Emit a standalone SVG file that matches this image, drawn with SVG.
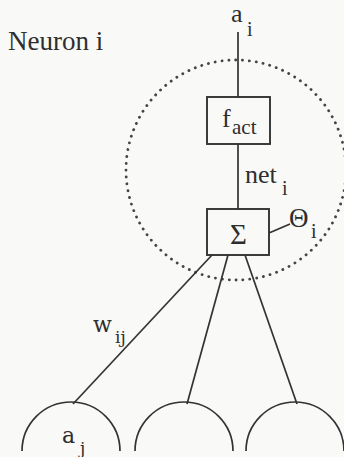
<svg xmlns="http://www.w3.org/2000/svg" width="344" height="457" viewBox="0 0 344 457">
<rect width="344" height="457" fill="#f9f9f7"/>
<g fill="#2e2e2e" font-family="'Liberation Serif'">
<g id="neuron">
<circle cx="236" cy="170" r="110" fill="none" stroke="#444" stroke-width="2.8" stroke-dasharray="0.1 6.8" stroke-linecap="round"/>
<text x="8" y="50" font-size="27">Neuron i</text>
</g>
<g id="connectors" stroke="#333" stroke-width="1.7" fill="none">
<line x1="238" y1="32" x2="238" y2="97"/>
<line x1="238" y1="144" x2="238" y2="209"/>
<line x1="269" y1="233" x2="290" y2="224"/>
<line x1="212" y1="255" x2="73" y2="404"/>
<line x1="228" y1="255" x2="187" y2="404"/>
<line x1="245" y1="255" x2="297" y2="404"/>
</g>
<g id="output">
<text x="231" y="22" font-size="26">a</text>
<text x="247" y="36" font-size="20">i</text>
</g>
<g id="fact">
<rect x="207" y="97" width="63" height="47" fill="none" stroke="#333" stroke-width="1.9"/>
<text x="222" y="127" font-size="26">f</text>
<text x="232" y="134" font-size="21">act</text>
</g>
<g id="net-label">
<text x="245" y="183" font-size="26">net</text>
<text x="282" y="195" font-size="20">i</text>
</g>
<g id="sum">
<rect x="207" y="209" width="62" height="46" fill="none" stroke="#333" stroke-width="1.9"/>
<text x="230" y="244" font-size="29">&#931;</text>
</g>
<g id="theta">
<text x="289" y="227" font-size="27">&#920;</text>
<text x="311" y="238" font-size="20">i</text>
</g>
<g id="weight" font-family="'DejaVu Serif'">
<text x="93" y="332" font-size="22">w</text>
<text x="115" y="343" font-size="17">ij</text>
</g>
<g id="inputs" stroke="#333" stroke-width="1.7" fill="none">
<path id="input1" d="M22,451 A49,49 0 0 1 120,451"/>
<path id="input2" d="M135,451 A49,49 0 0 1 233,451"/>
<path id="input3" d="M246,451 A49,49 0 0 1 344,451"/>
</g>
<g id="input1-label" font-family="'DejaVu Serif'">
<text x="62" y="443" font-size="22">a</text>
<text x="80" y="454" font-size="17">j</text>
</g>
</g>
</svg>
